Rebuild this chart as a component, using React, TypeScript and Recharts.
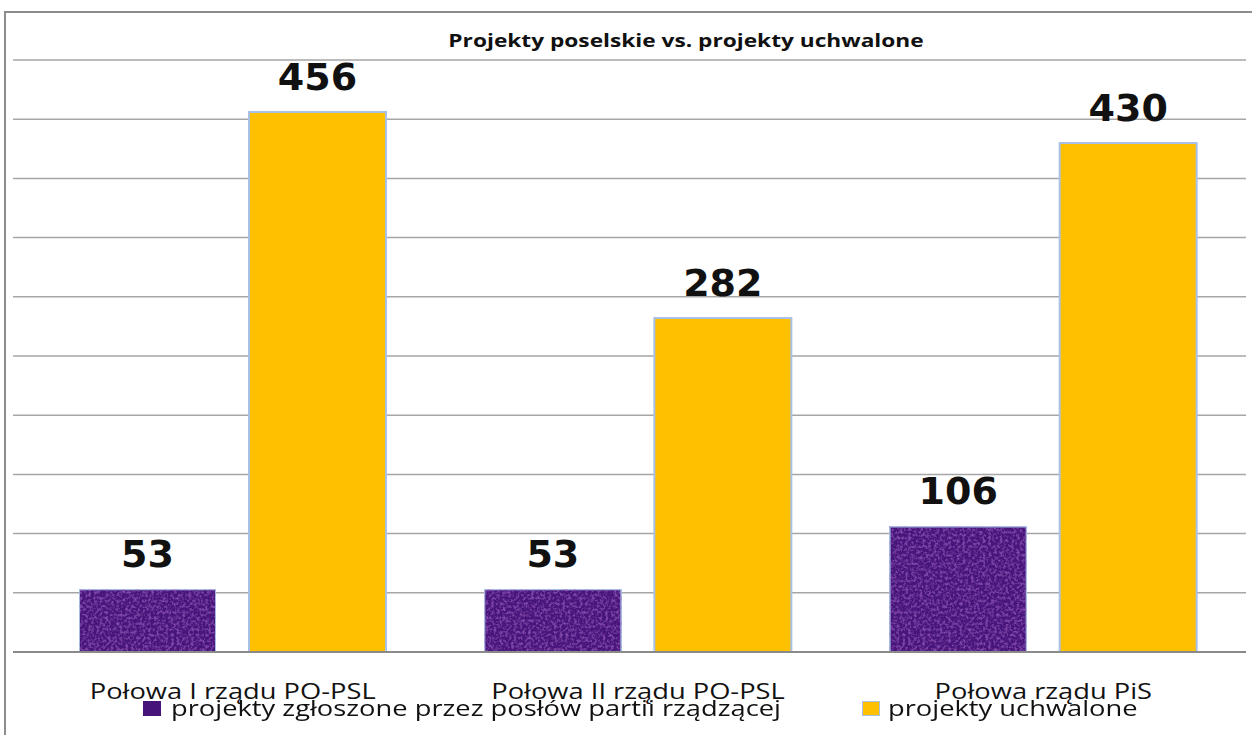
import { BarChart, Bar, XAxis, YAxis, CartesianGrid, LabelList } from 'recharts'

const categories = ['Połowa I rządu PO-PSL', 'Połowa II rządu PO-PSL', 'Połowa rządu PiS']
const zgloszone = [53, 53, 106]
const uchwalone = [456, 282, 430]
const seriesNames = ['projekty zgłoszone przez posłów partii rządzącej', 'projekty uchwalone']
const yTicks = [0, 50, 100, 150, 200, 250, 300, 350, 400, 450, 500]

const C = { purple: '#46137a', yellow: '#FFC000', edge: '#a9c1e6', grid: '#a6a6a6', frame: '#8c8c8c' }
const FONT = '"Open Sans", "Liberation Sans", sans-serif'
const STRETCH = 1.3

const data = categories.map((c, i) => ({ name: c, a: zgloszone[i], b: uchwalone[i] }))

function CatTick({ x, y, payload }: any) {
  return (
    <g transform={`translate(${x},${y + 39}) scale(${STRETCH},1)`}>
      <text x={0} y={0} textAnchor="middle" style={{ fontFamily: FONT, fontSize: 21, fill: '#111' }}>
        {payload.value}
      </text>
    </g>
  )
}

const numStyle = { fontFamily: '"DejaVu Sans", sans-serif', fontWeight: 700, fontSize: 38, fill: '#111' }

export default function App() {
  const stretched = { display: 'inline-block', transform: `scaleX(${STRETCH})`, transformOrigin: 'left center', whiteSpace: 'nowrap' as const }
  return (
    <div style={{ position: 'absolute', left: 0, top: 0, width: 1252, height: 735, background: '#fff', overflow: 'hidden' }}>
      <div style={{ position: 'absolute', left: 4, top: 11, width: 1260, height: 740, borderLeft: `2px solid ${C.frame}`, borderTop: `2px solid ${C.frame}` }} />
      <div style={{ position: 'absolute', left: 686, top: 28, transform: `translateX(-50%) scaleX(1.26)`,
        fontFamily: FONT, fontWeight: 700, fontSize: 18, lineHeight: '24px', color: '#111', whiteSpace: 'nowrap' }}>
        Projekty poselskie vs. projekty uchwalone
      </div>
      <BarChart width={1252} height={735} data={data} barGap={33} barCategoryGap={49}
        margin={{ top: 60, right: 6, left: 13, bottom: 0 }} style={{ position: 'absolute', left: 0, top: 0 }}>
        <defs>
          <filter id="grain" x="0" y="0" width="100%" height="100%">
            <feTurbulence type="fractalNoise" baseFrequency="0.35" numOctaves="3" seed="7" result="noise" />
            <feColorMatrix in="noise" type="matrix"
              values="0 0 0 0 0.38  0 0 0 0 0.12  0 0 0 0 0.62  0 0 0 1.4 -0.6" result="tint" />
            <feComposite in="tint" in2="SourceGraphic" operator="in" result="clip" />
            <feMerge><feMergeNode in="SourceGraphic" /><feMergeNode in="clip" /></feMerge>
          </filter>
        </defs>
        <CartesianGrid vertical={false} stroke={C.grid} strokeWidth={1.5} />
        <YAxis hide domain={[0, 500]} ticks={yTicks} width={0} />
        <XAxis dataKey="name" height={83} padding={{ left: 17, right: 0 }} tickLine={false}
          axisLine={{ stroke: '#8a8a8a', strokeWidth: 2 }} tick={<CatTick />} interval={0} />
        <Bar dataKey="a" name={seriesNames[0]} fill={C.purple} stroke={C.edge} strokeWidth={2}
          filter="url(#grain)" isAnimationActive={false}>
          <LabelList dataKey="a" position="top" offset={22} style={numStyle} />
        </Bar>
        <Bar dataKey="b" name={seriesNames[1]} fill={C.yellow} stroke={C.edge} strokeWidth={2} isAnimationActive={false}>
          <LabelList dataKey="b" position="top" offset={22} style={numStyle} />
        </Bar>
      </BarChart>
      <div style={{ position: 'absolute', top: 699, left: 143, display: 'flex', alignItems: 'center', fontFamily: FONT, fontSize: 21, lineHeight: '18px', color: '#111' }}>
        <span style={{ width: 18, height: 15, background: C.purple, marginRight: 10, display: 'inline-block' }} />
        <span style={stretched}>{seriesNames[0]}</span>
      </div>
      <div style={{ position: 'absolute', top: 699, left: 862, display: 'flex', alignItems: 'center', fontFamily: FONT, fontSize: 21, lineHeight: '18px', color: '#111' }}>
        <span style={{ width: 16, height: 13, background: C.yellow, border: `1px solid ${C.edge}`, marginRight: 8, display: 'inline-block' }} />
        <span style={stretched}>{seriesNames[1]}</span>
      </div>
    </div>
  )
}
